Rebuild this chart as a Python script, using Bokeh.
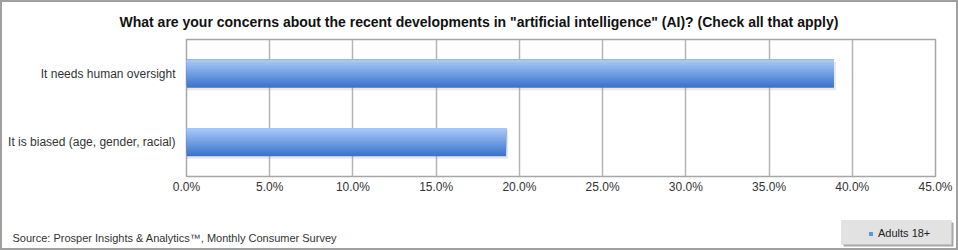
from bokeh.plotting import figure
from bokeh.layouts import column
from bokeh.models import (Range1d, FixedTicker, NumeralTickFormatter, Label, Title,
                          BoxAnnotation, Legend, LegendItem)
from bokeh.embed import file_html
from bokeh.resources import INLINE

# ---- data ----
categories = ["It is biased (age, gender, racial)", "It needs human oversight"]
values = [0.192, 0.389]
series_name = "Adults 18+"
x_ticks = [0.0, 0.05, 0.10, 0.15, 0.20, 0.25, 0.30, 0.35, 0.40, 0.45]
title_text = ('What are your concerns about the recent developments in '
              '"artificial intelligence" (AI)? (Check all that apply)')
source_text = "Source: Prosper Insights & Analytics\u2122, Monthly Consumer Survey"

FONT = "Liberation Sans"
BW = 2                      # outer border width
W = 958 - 2 * BW            # inner width
H1, H2 = 198, 48            # top (chart) / bottom (footer) heights
FL, FR, FT, FB = 184, 933, 37, 174   # frame edges inside top canvas

p = figure(width=W, height=H1, output_backend="svg", toolbar_location=None,
           x_range=Range1d(x_ticks[0], x_ticks[-1]), y_range=Range1d(0, len(categories)),
           min_border_left=FL, min_border_right=W - FR, min_border_top=FT,
           min_border_bottom=H1 - FB)
p.background_fill_color = "white"
p.border_fill_color = "white"
p.outline_line_color = "#a6a6a6"
p.outline_line_width = 1.5

p.title = Title(text=title_text, align="left", offset=119 - BW - FL,
                text_font=FONT, text_font_size="14px", text_font_style="bold",
                text_color="#111111", standoff=19)

ys = [i + 0.5 for i in range(len(categories))]
bar_h = 0.41

# soft shadow under bars
p.hbar(y=[y - 0.035 for y in ys], left=0, right=[v + 0.0012 for v in values],
       height=bar_h, fill_color="#9a9a9a", fill_alpha=0.22, line_color=None)

# gradient bars: nested bars anchored at the top, darkest first
top_c = (0xa8, 0xc8, 0xf8)
bot_c = (0x3a, 0x74, 0xcc)
N = 16
renderers = []
for i in range(N):
    t = 1 - i / (N - 1)
    col = "#%02x%02x%02x" % tuple(int(round(a + (b - a) * t)) for a, b in zip(top_c, bot_c))
    hh = bar_h * (N - i) / N
    yc = [y + bar_h / 2 - hh / 2 for y in ys]
    r = p.hbar(y=yc, left=0, right=values, height=hh, fill_color=col, line_color=None)
    renderers.append(r)

# grid
p.ygrid.grid_line_color = None
p.xgrid.ticker = FixedTicker(ticks=x_ticks)
p.xgrid.grid_line_color = "#b4b4b4"
p.xgrid.grid_line_width = 1.5

# x axis
xa = p.xaxis[0]
xa.ticker = FixedTicker(ticks=x_ticks)
xa.formatter = NumeralTickFormatter(format="0.0%")
xa.axis_line_color = None
xa.major_tick_line_color = None
xa.minor_tick_line_color = None
xa.major_tick_out = 0
xa.major_tick_in = 0
xa.minor_tick_out = 0
xa.minor_tick_in = 0
xa.major_label_standoff = 3
xa.major_label_text_font = FONT
xa.major_label_text_font_size = "12px"
xa.major_label_text_color = "#333333"

# y axis
ya = p.yaxis[0]
ya.ticker = FixedTicker(ticks=ys)
ya.major_label_overrides = {y: c for y, c in zip(ys, categories)}
ya.axis_line_color = None
ya.major_tick_line_color = None
ya.minor_tick_line_color = None
ya.major_tick_out = 0
ya.major_tick_in = 0
ya.minor_tick_out = 0
ya.minor_tick_in = 0
ya.major_label_standoff = 11
ya.major_label_text_font = FONT
ya.major_label_text_font_size = "12px"
ya.major_label_text_color = "#333333"

# ---- footer figure (source + legend) ----
f = figure(width=W, height=H2, output_backend="svg", toolbar_location=None,
           x_range=Range1d(0, W), y_range=Range1d(H2, 0),
           min_border=0, min_border_left=0, min_border_right=0,
           min_border_top=0, min_border_bottom=0)
f.axis.visible = False
f.grid.visible = False
f.outline_line_color = None
f.background_fill_color = "white"
f.border_fill_color = "white"

for fig in (p, f):
    if "frame_align" in fig.properties():
        fig.frame_align = False

f.add_layout(Label(x=10, y=37, text=source_text, text_font=FONT, text_font_size="11px",
                   text_align="left", text_baseline="middle", text_color="#333333"))

# legend box: shadow + box
f.add_layout(BoxAnnotation(left=841, right=951, bottom=46, top=22,
                           fill_color="#a8a8a8", fill_alpha=1, line_color=None))
f.add_layout(BoxAnnotation(left=839, right=949, bottom=44, top=20,
                           fill_color="#e2e2e2", fill_alpha=1,
                           line_color="#c8c8c8", line_width=1))

# legend proxy glyph (kept outside the footer's visible range)
legend_proxy = f.hbar(y=[-20], left=[0], right=values[-1:], height=1,
                      fill_color="#5f93e6", line_color=None)
legend = Legend(items=[LegendItem(label=series_name, renderers=[legend_proxy])],
                location=(866, 9), padding=0, margin=0, spacing=0,
                glyph_width=5, glyph_height=5, label_height=8, label_standoff=5,
                label_text_font=FONT, label_text_font_size="11px",
                label_text_color="#222222",
                background_fill_alpha=0, border_line_alpha=0)
f.add_layout(legend)

layout = column(p, f, spacing=0,
                styles={"border": "%dpx solid #a0a0a0" % BW, "box-sizing": "content-box"})

open("out.html", "w").write(file_html(layout, INLINE))
